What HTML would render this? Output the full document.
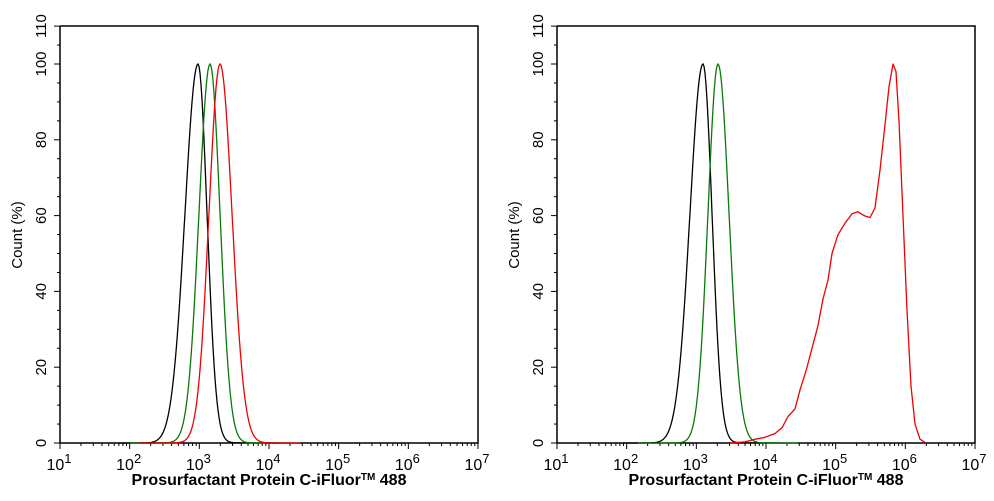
<!DOCTYPE html>
<html><head><style>
body{margin:0;background:#fff;}
svg{display:block;font-family:"Liberation Sans",Arial,sans-serif;}
</style></head><body>
<svg id="s" width="994" height="501" viewBox="0 0 994 501" xmlns="http://www.w3.org/2000/svg"></svg>
<script>
const s=document.getElementById('s');let h='';
const Y=v=>443-v*3.79;
function axes(x0){
 const x1=x0+418, dw=418/6;
 h+=`<path d="M${x0} 26V443H${x1}V26H${x0}" fill="none" stroke="#000" stroke-width="1.5"/>`;
 for(let v=0;v<=110;v+=5){const y=Y(v);const L=v%20==0||v==110?6:3;h+=`<line x1="${x0-L}" x2="${x0}" y1="${y}" y2="${y}" stroke="#000"/>`;}
 [0,20,40,60,80,100,110].forEach(v=>{const y=Y(v);h+=`<text transform="translate(${x0-14},${y}) rotate(-90)" text-anchor="middle" font-size="15">${v}</text>`;});
 h+=`<text transform="translate(${x0-38},235) rotate(-90)" text-anchor="middle" font-size="15">Count  (%)</text>`;
 for(let d=0;d<6;d++){for(let k=1;k<10;k++){const x=x0+dw*(d+Math.log10(k));const L=k==1?6:3;h+=`<line x1="${x}" x2="${x}" y1="443" y2="${443+L}" stroke="#000"/>`;}}
 h+=`<line x1="${x1}" x2="${x1}" y1="443" y2="449" stroke="#000"/>`;
 for(let d=0;d<=6;d++){const x=x0+dw*d;h+=`<text x="${x-1}" y="470" text-anchor="middle" font-size="16">10<tspan dy="-7" font-size="13">${d+1}</tspan></text>`;}
 h+=`<text x="${x0+209}" y="485" text-anchor="middle" font-size="16" font-weight="bold">Prosurfactant Protein C-iFluor<tspan font-size="10" dy="-5">TM</tspan><tspan dy="5"> 488</tspan></text>`;
}
function g(c,sl,sr,col){let p='';for(let x=c-80;x<=c+80;x+=1){const s=x<c?sl:sr;const d=(x-c)/s;let v=100*Math.exp(-d*d/2)+1.2*Math.exp(-Math.abs(x-c)/12)*(Math.abs(x-c)>s?1:0);p+=(p?'L':'M')+x+' '+Y(Math.min(v,100)).toFixed(1);}h+=`<path d="${p}" fill="none" stroke="${col}" stroke-width="1.3"/>`;}
axes(60);axes(557);
g(198,13,9,'#000');g(210,11,10,'#0a7a0a');g(220,11,12,'#e00');
g(703,13,9,'#000');g(718,10,11,'#0a7a0a');
const r=[[730,0],[745,0.3],[755,1],[765,1.5],[775,2.5],[782,4],[788,7],[795,9],[800,14],[806,19],[812,25],[818,31],[823,38],[828,43],[832,50],[838,55],[845,58],[852,60.5],[858,61],[864,60],[870,59.5],[875,62],[880,72],[885,84],[889,94],[893,100],[896,98],[899,85],[903,60],[907,35],[911,15],[915,5],[920,1],[926,0]];
h+=`<path d="M${r.map(p=>p[0]+' '+Y(p[1]).toFixed(1)).join('L')}" fill="none" stroke="#e00" stroke-width="1.3" stroke-linejoin="round"/>`;
s.innerHTML=h;
</script>
</body></html>
